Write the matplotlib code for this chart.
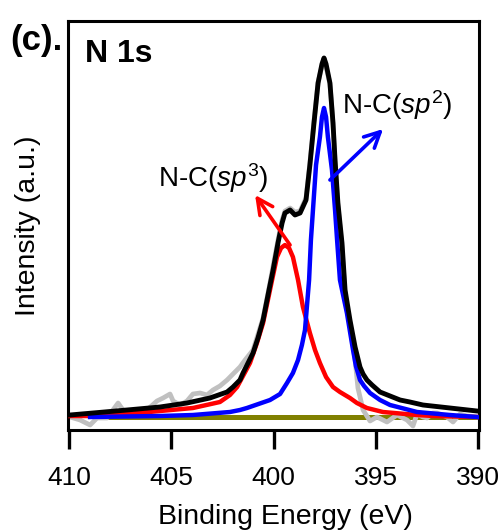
import matplotlib
matplotlib.use("Agg")
import matplotlib.pyplot as plt

plt.rcParams['font.family'] = ['Liberation Sans', 'DejaVu Sans']
plt.rcParams['mathtext.fontset'] = 'custom'
plt.rcParams['mathtext.rm'] = 'Liberation Sans'
plt.rcParams['mathtext.it'] = 'Liberation Sans:italic'
plt.rcParams['mathtext.bf'] = 'Liberation Sans:bold'

# ---- data (binding energy in eV, intensity in arbitrary units) ----
raw_E = [409.95, 409.46, 408.97, 408.63, 408.14, 407.60, 407.36, 406.87, 406.19, 405.70,
         405.40, 405.06, 404.91, 404.57, 404.23, 403.94, 403.59, 403.25, 402.96, 402.62,
         402.27, 401.98, 401.64, 401.39, 401.00, 400.51, 400.22, 400.02, 399.78, 399.58,
         399.44, 399.19, 398.95, 398.70, 398.41, 398.22, 398.02, 397.82, 397.53, 397.24,
         397.09, 396.99, 396.85, 396.65, 396.50, 396.26, 396.01, 395.87, 395.62, 395.28,
         394.94, 394.45, 393.96, 393.47, 393.18, 392.98, 392.69, 392.49, 392.20, 392.00,
         391.52, 391.22, 390.88, 390.54, 390.05]
raw_I = [0, -3, -8, -1, -1, 14, 7, 5, 7, 16,
         19, 23, 16, 12, 16, 23, 24, 22, 27, 31,
         37, 43, 50, 57, 67, 99, 129, 151, 177, 197,
         206, 209, 205, 206, 219, 254, 296, 335, 359, 333,
         293, 255, 211, 169, 122, 92, 57, 29, 7, -4,
         0, -5, 2, -3, -9, 3, 0, -1, 4, 4,
         0, -5, 3, 1, 0]

env_E = [409.95, 408.83, 407.16, 405.55, 404.23, 403.11, 402.27, 401.98, 401.64, 401.49,
         401.00, 400.76, 400.51, 400.22, 400.02, 399.78, 399.58, 399.44, 399.19, 398.95,
         398.70, 398.41, 398.22, 398.02, 397.82, 397.63, 397.53, 397.43, 397.24, 397.09,
         396.99, 396.85, 396.65, 396.50, 396.26, 396.01, 395.77, 395.62, 395.43, 395.18,
         394.79, 394.30, 393.81, 393.33, 392.69, 391.37, 390.05]
env_I = [2, 4, 7, 10, 14, 19, 25, 30, 37, 44,
         64, 79, 97, 127, 147, 174, 194, 204, 207, 202,
         204, 217, 252, 294, 334, 353, 359, 353, 334, 294,
         257, 214, 174, 127, 97, 70, 50, 43, 37, 32,
         25, 21, 17, 15, 12, 9, 6]

sp3_E = [409.95, 408.83, 407.16, 405.55, 403.94, 402.62, 402.13, 401.78, 401.15, 400.81,
         400.51, 400.07, 399.83, 399.63, 399.44, 399.24, 399.05, 398.80, 398.56, 398.22,
         397.97, 397.73, 397.43, 397.09, 396.75, 396.26, 395.92, 395.43, 394.65, 392.98,
         392.20, 390.05]
sp3_I = [1, 1, 3, 6, 9, 15, 22, 30, 54, 74,
         94, 137, 160, 169, 172, 169, 160, 137, 110, 84,
         67, 54, 40, 30, 25, 19, 14, 9, 5, 2,
         1, 0]

sp2_E = [408.97, 405.55, 403.94, 402.13, 401.64, 401.30, 400.17, 399.68, 399.34, 399.05,
         398.80, 398.61, 398.46, 398.36, 398.26, 398.17, 397.92, 397.73, 397.63, 397.53,
         397.43, 397.34, 397.14, 396.99, 396.89, 396.75, 396.41, 396.11, 395.97, 395.77,
         395.57, 395.28, 394.79, 394.30, 392.98, 391.37, 390.05]
sp2_I = [0, 1, 2, 5, 7, 9, 17, 23, 34, 44,
         57, 72, 87, 112, 137, 177, 252, 280, 300, 309,
         300, 280, 247, 207, 177, 137, 104, 67, 51, 37,
         31, 24, 17, 12, 5, 2, 0]

base_E = [408.3, 390.0]
base_I = [0, 0]

x_ticks = [410, 405, 400, 395, 390]
x_tick_labels = ['410', '405', '400', '395', '390']

# ---- figure ----
fig = plt.figure(figsize=(5.03, 5.30), dpi=100)
ax = fig.add_axes([68 / 503, 1 - 430 / 530, 411 / 503, 409 / 530])

ax.plot(base_E, base_I, color='#808000', lw=3.6, solid_capstyle='butt', zorder=1)
ax.plot(raw_E, raw_I, color='#c0c0c0', lw=3.4, zorder=2, solid_joinstyle='round')
ax.plot(sp3_E, sp3_I, color='#ff0000', lw=3.2, zorder=3, solid_joinstyle='round')
ax.plot(sp2_E, sp2_I, color='#0000ff', lw=3.2, zorder=4, solid_joinstyle='round')
ax.plot(env_E, env_I, color='black', lw=3.5, zorder=5, solid_joinstyle='round')

ax.set_xlim(410.05, 389.95)
ax.set_ylim(-13, 396)
ax.set_xticks(x_ticks)
ax.set_xticklabels(x_tick_labels)
ax.set_yticks([])
for s in ax.spines.values():
    s.set_linewidth(2.2)
ax.tick_params(axis='x', direction='out', length=13.5, width=2.4, labelsize=19, pad=12.5,
               top=False)

ax.set_xlabel('Binding Energy (eV)', fontsize=20.5)
ax.xaxis.set_label_coords(0.528, -0.18)
ax.set_ylabel('Intensity (a.u.)', fontsize=20.5)
ax.yaxis.set_label_coords(-0.065, 0.5)

ax.text(0.041, 0.900, 'N 1s', transform=ax.transAxes, fontsize=23, fontweight='bold',
        ha='left', va='baseline')
fig.text(10 / 503, 1 - 50 / 530, '(c).', fontsize=25, fontweight='bold',
         ha='left', va='baseline')

ax.text(396.65, 303, r'N-C($\mathit{sp}^{2}$)', fontsize=20, ha='left', va='baseline', zorder=6)
ax.text(405.65, 230, r'N-C($\mathit{sp}^{3}$)', fontsize=20, ha='left', va='baseline', zorder=6)

ax.annotate('', xy=(394.64, 288), xytext=(397.24, 237),
            arrowprops=dict(arrowstyle='->', color='#0000ff', lw=2.6, mutation_scale=28,
                            shrinkA=0, shrinkB=0), zorder=6)
ax.annotate('', xy=(400.90, 222), xytext=(399.19, 172),
            arrowprops=dict(arrowstyle='->', color='#ff0000', lw=2.6, mutation_scale=28,
                            shrinkA=0, shrinkB=0), zorder=6)

fig.savefig('out.png', dpi=100)
